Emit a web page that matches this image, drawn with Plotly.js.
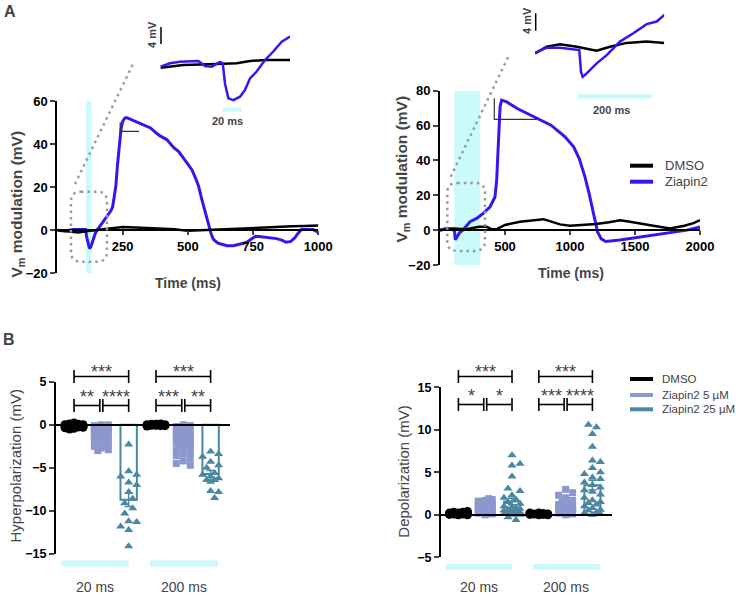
<!DOCTYPE html>
<html><head><meta charset="utf-8">
<script src="https://cdn.plot.ly/plotly-3.0.1.min.js"></script>
<style>html,body{margin:0;padding:0;background:#fff}#chart{width:736px;height:595px}</style>
</head><body><div id="chart"></div>
<script>
// ================= DATA =================
// Panel A, 20 ms light pulse (main trace)
const shortZiapinTime = [0,30,60,90,108,112,118,123,128,135,145,155,170,185,195,205,212,218,224,230,237,244,250,258,265,280,300,330,357,380,395,420,446,465,478,500,516,530,541,552,560,570,579,590,598,615,630,650,674,700,725,745,760,780,800,820,840,860,877,895,910,922,935,960,980,990,1000];
const shortZiapin = [0,-0.3,0.3,0.2,0.3,-3,-7,-8.4,-7.8,-4.8,-1.5,0.5,3,5.5,7,9,11,15,20.5,30,40.5,47,50.5,52,52.3,51.5,50.5,49,47.5,45,43.7,42,38.3,36.5,34.4,31,28,24,20.5,15,11.3,6,2,-2,-4.2,-6,-6.5,-7.2,-7.2,-6.5,-5.7,-4,-2.8,-3,-3.3,-3.5,-3.9,-4.6,-5.6,-5.2,-3.5,-1.5,0.3,0.3,0.3,-0.3,-1];
const shortDmsoTime = [0,40,80,110,150,200,250,300,350,400,450,500,550,600,650,700,750,800,850,900,950,1000];
const shortDmso = [0,-0.5,-1,-0.5,0,0.8,1.5,1.3,1,0.8,0.5,-0.3,0,0.2,0.5,0.8,1.2,1.3,1.5,1.8,2,2.2];
// Panel A, 200 ms light pulse (main trace)
const longZiapinTime = [0,56,102,112,118,130,150,175,231,282,333,385,423,436,449,462,474,513,594,724,854,962,1028,1071,1115,1147,1179,1212,1240,1275,1385,1500,1641,1800,1900,2000];
const longZiapin = [0,1,0.4,-1,-5.5,-4,-1.5,0,4.8,6.7,9.6,13.4,19,28.7,51.6,70.7,74.6,73.6,69.8,65,60.2,53.5,47.8,41.1,30.6,21,9.6,-1,-5,-6.5,-5.7,-4.5,-2.9,-1.2,0,1.9];
const longDmsoTime = [0,100,200,300,359,400,436,500,615,700,795,850,923,1000,1077,1200,1300,1385,1450,1550,1641,1769,1880,1950,2000];
const longDmso = [0,1,0.5,2,1.9,0.5,0.6,3,4.8,5.5,6.3,5,3.3,2.5,2.9,3.5,4.5,5.7,5,3.5,2.5,1,2.5,4,5.7];
// Insets (zoom on the light pulse)
const insetShortZiapinTime = [44.7,54.5,65.1,84.4,91.4,98.5,107.2,110.1,112.5,116,121.3,128.3,133.6,138.9,145.9,154.7,163.4,172.3,181];
const insetShortZiapin = [-0.16,0.64,1.0,1.2,0,-0.16,0.94,0.64,-4.1,-7.6,-8.0,-7.2,-5.6,-2.9,-1.3,1.4,3.4,5.7,6.9];
const insetShortDmsoTime = [44.7,68.6,103.8,124.8,138.9,156.5,181];
const insetShortDmso = [-0.4,0.24,0.47,0.64,1.2,1.4,1.4];
const insetLongZiapinTime = [-6,25.6,61.6,113.7,118.3,122.9,133.7,160.8,187.8,223.7,259.7,295.9,322.9,343.5];
const insetLongZiapin = [-0.16,1.0,1.0,0.46,-4.5,-5.7,-4.9,-2.6,-0.7,2.4,4.3,6.4,7.0,8.5];
const insetLongDmsoTime = [-6,25.6,61.6,106.7,160.8,196.7,241.8,295.9,343.5];
const insetLongDmso = [-0.3,1.2,1.8,1.2,0.3,1.2,2.1,2.4,2.1];
const lightShort = [110,130];   // ms
const lightLong = [110,310];    // ms
const scaleBarMv = 4;

// Panel B
const pulseLabels = ['20 ms','200 ms'];
const conditionNames = ['DMSO','Ziapin2 5 µM','Ziapin2 25 µM'];
const hyperDmso20 = [0.2,0.1,0.05,0,0,-0.05,-0.1,-0.1,-0.15,-0.2,-0.25,-0.3,-0.35,-0.4,-0.5,-0.2,0,-0.1];
const hyperZ5_20 = [0,0,-0.1,-0.2,-0.3,-0.4,-0.5,-0.5,-0.6,-0.7,-0.8,-0.8,-0.9,-1.0,-1.0,-1.1,-1.2,-1.3,-1.4,-1.5,-1.6,-1.7,-1.8,-1.9,-2.0,-2.1,-2.3,-2.5,-2.7,-2.9,-3.0];
const hyperZ25_20 = [-2.3,-5.4,-5.8,-6.0,-6.7,-7.0,-7.8,-8.6,-9.1,-9.7,-10.3,-11.2,-11.3,-11.8,-12.2,-14.1];
const hyperDmso200 = [0.1,0.05,0,0,0,-0.05,-0.05,-0.1,-0.1,-0.15,0,0.05];
const hyperZ5_200 = [0,-0.1,-0.2,-0.3,-0.4,-0.5,-0.6,-0.7,-0.8,-0.9,-1.0,-1.1,-1.2,-1.3,-1.4,-1.5,-1.6,-1.7,-1.8,-1.9,-2.0,-2.1,-2.2,-2.3,-2.4,-2.6,-2.8,-3.0,-3.2,-3.4,-3.6,-3.9,-4.2,-4.5,-4.7];
const hyperZ25_200 = [-3.1,-3.4,-3.7,-4.3,-4.7,-5.0,-5.6,-5.8,-6.0,-6.2,-6.4,-6.4,-6.6,-7.7,-7.8,-8.5];
const depolDmso20 = [0,0.1,0.2,0.3,0.4,0.1,0,0.2,0.3,0.1,0.05,0.15];
const depolZ5_20 = [0,0.1,0.2,0.3,0.4,0.5,0.5,0.6,0.7,0.8,0.9,1.0,1.1,1.2,1.3,1.4,1.5,1.6,1.7,1.8,1.9,0.2,0.4,0.6,0.8,1.0,1.2,0.3,0.7,1.5];
const depolZ25_20 = [7.0,6.0,5.8,4.5,3.1,2.8,2.3,2.0,1.5,1.3,1.0,0.8,0.6,0.5,0.3,0.2,0.1,0,-0.3,-0.6,1.8,0.9,0,0.1,0.2,0.4,0.5,0.7];
const depolDmso200 = [0,0.05,0.1,0.15,0.2,0.1,0,0.05,0.1,0.2];
const depolZ5_200 = [0,0.1,0.2,0.3,0.4,0.5,0.6,0.7,0.8,0.9,1.0,1.1,1.2,1.3,1.5,1.7,2.0,2.3,2.6,3.0,0.2,0.4,0.6,0.8,0.3,0.5,1.0];
const depolZ25_200 = [10.6,10.3,9.5,8.0,6.4,6.2,5.5,5.0,4.8,4.4,4.2,3.8,3.5,3.2,2.9,2.7,2.4,2.0,1.7,1.4,1.2,1.0,0.8,0.5,0.3,0.1,0,0.2,0.6,1.5];
// significance brackets: [label, from category, to category, level]
const hyperSig = [['***',0,2,'top'],['**',0,1,'low'],['****',1,2,'low'],['***',3,5,'top'],['***',3,4,'low'],['**',4,5,'low']];
const depolSig = [['***',0,2,'top'],['*',0,1,'low'],['*',1,2,'low'],['***',3,5,'top'],['***',3,4,'low'],['****',4,5,'low']];

// ================= LAYOUT GEOMETRY =================
const W = 736, H = 595;
const FONT = 'Liberation Sans, Arial, Helvetica, sans-serif';
const C_BLUE = '#3218f0', C_CYAN = '#cbfafa', C_Z5 = '#8c98cd', C_Z25 = '#4a87a3', C_GREY = '#9a9a9a';
const G = {
  AL: {x:[57.4,318.3], y:[101,273.3], xr:[0,1000], yr:[-20,60]},
  AR: {x:[440,700], y:[90.7,265], xr:[0,2000], yr:[-20,80]},
  IL: {x:[160,290], y:[20,115], xr:[44,181], yr:[-11.5,10.8]},
  IR: {x:[535,664.3], y:[8,100], xr:[-6,343.5], yr:[-11,10.1]},
  BL: {x:[56,230], y:[381.7,554], xr:[-0.66,5.71], yr:[-15,5]},
  BR: {x:[441,611.7], y:[387.3,557.3], xr:[-0.65,5.72], yr:[-5,15]}
};
const PX = p => p / W, PY = p => 1 - p / H;
function pxX(g, v){ return g.x[0] + (v - g.xr[0]) / (g.xr[1] - g.xr[0]) * (g.x[1] - g.x[0]); }
function pxY(g, v){ return g.y[1] - (v - g.yr[0]) / (g.yr[1] - g.yr[0]) * (g.y[1] - g.y[0]); }
const dX = (g, v) => PX(pxX(g, v)), dY = (g, v) => PY(pxY(g, v));
const xdom = g => [PX(g.x[0]), PX(g.x[1])], ydom = g => [PY(g.y[1]), PY(g.y[0])];

function mean(a){ return a.reduce((s,v)=>s+v,0)/a.length; }
function sem(a){ const m=mean(a); const sd=Math.sqrt(a.reduce((s,v)=>s+(v-m)*(v-m),0)/(a.length-1)); return sd/Math.sqrt(a.length); }

function swarm(vals, g, diam, maxPx){
  const sy = (g.y[1]-g.y[0])/(g.yr[1]-g.yr[0]);
  const sx = (g.x[1]-g.x[0])/(g.xr[1]-g.xr[0]);
  const idx = vals.map((v,i)=>i).sort((a,b)=>Math.abs(vals[a])-Math.abs(vals[b]));
  const placed = [], off = new Array(vals.length).fill(0);
  const step = diam*0.5;
  for (const i of idx){
    const yv = vals[i]*sy; let best=0, bestD=-1;
    for (let k=0;;k++){
      const m = Math.ceil(k/2), xo = (k%2 ? 1 : -1)*m*step;
      if (Math.abs(xo) > maxPx) break;
      let dmin = Infinity;
      for (const p of placed){ const d = Math.hypot(p[0]-xo, p[1]-yv); if (d<dmin) dmin=d; }
      if (dmin >= diam*0.9){ best=xo; bestD=dmin; break; }
      if (dmin > bestD + 0.01){ bestD=dmin; best=xo; }
    }
    placed.push([best,yv]); off[i]=best/sx;
  }
  return off;
}

const traces = [];
const shapes = [];
const annotations = [];
const ann = (o) => annotations.push(Object.assign({showarrow:false, xref:'paper', yref:'paper', xanchor:'center', yanchor:'middle', font:{family:FONT, size:13, color:'#000'}}, o));

// ---- Panel A traces ----
function line(x, y, xa, ya, color, width){ traces.push({type:'scatter', mode:'lines', x, y, xaxis:xa, yaxis:ya, line:{color, width, shape:'linear'}, showlegend:false, hoverinfo:'skip'}); }
line(shortZiapinTime, shortZiapin, 'x', 'y', C_BLUE, 3);
line(shortDmsoTime, shortDmso, 'x', 'y', '#000', 2.5);
line(longZiapinTime, longZiapin, 'x2', 'y2', C_BLUE, 3);
line(longDmsoTime, longDmso, 'x2', 'y2', '#000', 2.5);
line(insetShortDmsoTime, insetShortDmso, 'x3', 'y3', '#000', 2.5);
line(insetShortZiapinTime, insetShortZiapin, 'x3', 'y3', C_BLUE, 2.5);
line(insetLongDmsoTime, insetLongDmso, 'x4', 'y4', '#000', 2.5);
line(insetLongZiapinTime, insetLongZiapin, 'x4', 'y4', C_BLUE, 2.5);

// light windows
shapes.push({type:'rect', xref:'x', yref:'y', x0:lightShort[0], x1:lightShort[1], y0:-20, y1:60, fillcolor:C_CYAN, line:{width:0}, layer:'below'});
shapes.push({type:'rect', xref:'x2', yref:'y2', x0:lightLong[0], x1:lightLong[1], y0:-20, y1:80, fillcolor:C_CYAN, line:{width:0}, layer:'below'});
// inset light bars
shapes.push({type:'rect', xref:'paper', yref:'paper', x0:dX(G.IL,lightShort[0]), x1:dX(G.IL,lightShort[1]), y0:PY(112), y1:PY(107.5), fillcolor:C_CYAN, line:{width:0}});
shapes.push({type:'rect', xref:'paper', yref:'paper', x0:dX(G.IR,lightLong[0]), x1:dX(G.IR,lightLong[1]), y0:PY(98.5), y1:PY(94), fillcolor:C_CYAN, line:{width:0}});
// inset scale bars (4 mV)
shapes.push({type:'line', xref:'paper', yref:'paper', x0:PX(161), x1:PX(161), y0:PY(44), y1:PY(44 - scaleBarMv*(G.IL.y[1]-G.IL.y[0])/(G.IL.yr[1]-G.IL.yr[0])), line:{color:'#000', width:1.5}});
shapes.push({type:'line', xref:'paper', yref:'paper', x0:PX(535.7), x1:PX(535.7), y0:PY(30.7), y1:PY(30.7 - scaleBarMv*(G.IR.y[1]-G.IR.y[0])/(G.IR.yr[1]-G.IR.yr[0])), line:{color:'#000', width:1.5}});
ann({x:PX(152), y:PY(35), text:'4 mV', textangle:-90, font:{family:FONT, size:11, weight:'bold'}});
ann({x:PX(527), y:PY(21), text:'4 mV', textangle:-90, font:{family:FONT, size:11, weight:'bold'}});
ann({x:PX(227), y:PY(121), text:'20 ms', font:{family:FONT, size:11, weight:'bold'}});
ann({x:PX(611), y:PY(109.5), text:'200 ms', font:{family:FONT, size:11, weight:'bold'}});

// dotted zoom boxes and connectors
function roundRect(x0,y0,x1,y1,r){
  const f=(x,y)=>PX(x).toFixed(5)+','+PY(y).toFixed(5);
  return 'M'+f(x0+r,y0)+' L'+f(x1-r,y0)+' Q'+f(x1,y0)+' '+f(x1,y0+r)+' L'+f(x1,y1-r)+' Q'+f(x1,y1)+' '+f(x1-r,y1)+
         ' L'+f(x0+r,y1)+' Q'+f(x0,y1)+' '+f(x0,y1-r)+' L'+f(x0,y0+r)+' Q'+f(x0,y0)+' '+f(x0+r,y0)+' Z';
}
const dotLine = {color:C_GREY, width:2.5, dash:'2.5px,4px'};
shapes.push({type:'path', xref:'paper', yref:'paper', path:roundRect(pxX(G.AL,52), pxY(G.AL,17.9), pxX(G.AL,190), pxY(G.AL,-14.6), 10), line:dotLine});
shapes.push({type:'path', xref:'paper', yref:'paper', path:roundRect(pxX(G.AR,56), pxY(G.AR,27.1), pxX(G.AR,346), pxY(G.AR,-11.9), 10), line:dotLine});
shapes.push({type:'line', xref:'paper', yref:'paper', x0:PX(75), y0:PY(184), x1:PX(133), y1:PY(64), line:dotLine});
shapes.push({type:'line', xref:'paper', yref:'paper', x0:PX(450.7), y0:PY(176.7), x1:PX(508.3), y1:PY(56.7), line:dotLine});
// peak markers
shapes.push({type:'path', xref:'x', yref:'y', path:'M240.7,50.1 L240.7,45.9 L313,45.9', line:{color:'#333', width:1.2}});
shapes.push({type:'path', xref:'x2', yref:'y2', path:'M417.7,75.6 L417.7,63.5 L744,63.5', line:{color:'#333', width:1.2}});

// legend A
shapes.push({type:'line', xref:'paper', yref:'paper', x0:PX(630), x1:PX(653), y0:PY(165.7), y1:PY(165.7), line:{color:'#000', width:4}});
shapes.push({type:'line', xref:'paper', yref:'paper', x0:PX(630), x1:PX(653), y0:PY(181.7), y1:PY(181.7), line:{color:C_BLUE, width:4}});
ann({x:PX(663), y:PY(165.7), xanchor:'left', text:'DMSO', font:{family:FONT, size:13}});
ann({x:PX(663), y:PY(181.7), xanchor:'left', text:'Ziapin2', font:{family:FONT, size:13}});

// ---- Panel B ----
const condColors = ['#000', C_Z5, C_Z25];
const condSymbols = ['circle','square','triangle-up'];
const condSizes = [9, 7, 8];
function panelB(g, xa, ya, groups, sig, brY){
  for (let c=0;c<3;c++){
    const xs=[c, c+3], vals=[groups[c][0], groups[c][1]];
    traces.push({type:'bar', x:xs, y:vals.map(mean), width:0.6, xaxis:xa, yaxis:ya, showlegend:false, hoverinfo:'skip',
      marker:{color:'rgba(0,0,0,0)', line:{color:condColors[c], width:2}},
      error_y:{type:'data', array:vals.map(sem), visible:true, color:condColors[c], thickness:1.5, width:4}});
  }
  for (let c=0;c<3;c++){
    const px=[], py=[];
    for (let p=0;p<2;p++){
      const v = groups[c][p], off = swarm(v, g, condSizes[c], 9);
      v.forEach((val,i)=>{ px.push(c+3*p+off[i]); py.push(val); });
    }
    traces.push({type:'scatter', mode:'markers', x:px, y:py, xaxis:xa, yaxis:ya, showlegend:false, hoverinfo:'skip', cliponaxis:false,
      marker:{symbol:condSymbols[c], size:condSizes[c], color:condColors[c], line:{width:0}}});
  }
  sig.forEach(([lab, a, b, lvl])=>{
    const yPx = lvl==='top' ? brY[0] : brY[1];
    const gap = lvl==='low' ? 0.055 : 0;
    const xa0 = a + (a%3!==0 ? gap : 0), xb0 = b - (b%3!==2 ? gap : 0);
    const x0 = dX(g, xa0), x1 = dX(g, xb0);
    shapes.push({type:'line', xref:'paper', yref:'paper', x0, x1, y0:PY(yPx), y1:PY(yPx), line:{color:'#000', width:1.6}});
    shapes.push({type:'line', xref:'paper', yref:'paper', x0, x1:x0, y0:PY(yPx-6.5), y1:PY(yPx+6.5), line:{color:'#000', width:1.6}});
    shapes.push({type:'line', xref:'paper', yref:'paper', x0:x1, x1, y0:PY(yPx-6.5), y1:PY(yPx+6.5), line:{color:'#000', width:1.6}});
    ann({x:(x0+x1)/2, y:PY(yPx - (lvl==='top' ? 5 : 9)), text:lab, font:{family:FONT, size:18}});
  });
  const barPx = g === G.BL ? 563.5 : 567;
  [[-0.48,2.01],[2.78,5.27]].forEach((r,i)=>{
    shapes.push({type:'rect', xref:'paper', yref:'paper', x0:dX(g,r[0]), x1:dX(g,r[1]), y0:PY(barPx+3), y1:PY(barPx-3), fillcolor:C_CYAN, line:{width:0}});
    ann({x:dX(g,(r[0]+r[1])/2), y:PY(587), text:pulseLabels[i], font:{family:FONT, size:14}});
  });
}
panelB(G.BL, 'x5', 'y5', [[hyperDmso20,hyperDmso200],[hyperZ5_20,hyperZ5_200],[hyperZ25_20,hyperZ25_200]], hyperSig, [376.5, 405.5]);
panelB(G.BR, 'x6', 'y6', [[depolDmso20,depolDmso200],[depolZ5_20,depolZ5_200],[depolZ25_20,depolZ25_200]], depolSig, [376.5, 404.5]);

// legend B
[379, 395, 409.3].forEach((y,i)=>{
  shapes.push({type:'line', xref:'paper', yref:'paper', x0:PX(630), x1:PX(653), y0:PY(y), y1:PY(y), line:{color:condColors[i], width:4}});
  ann({x:PX(660), y:PY(y), xanchor:'left', text:conditionNames[i], font:{family:FONT, size:11.5}});
});

// titles & panel letters
ann({x:PX(2), y:PY(11), xanchor:'left', text:'A', font:{family:FONT, size:16, weight:'bold'}});
ann({x:PX(1), y:PY(339), xanchor:'left', text:'B', font:{family:FONT, size:16, weight:'bold'}});
ann({x:PX(16.5), y:PY(204), text:'V<sub>m</sub> modulation (mV)', textangle:-90, font:{family:FONT, size:15.5, weight:'bold'}});
ann({x:PX(401.5), y:PY(169), text:'V<sub>m</sub> modulation (mV)', textangle:-90, font:{family:FONT, size:15.5, weight:'bold'}});
ann({x:PX(188.3), y:PY(282.5), text:'Time (ms)', font:{family:FONT, size:14, weight:'bold'}});
ann({x:PX(571), y:PY(273.5), text:'Time (ms)', font:{family:FONT, size:14, weight:'bold'}});
ann({x:PX(15), y:PY(466.5), text:'Hyperpolarization (mV)', textangle:-90, font:{family:FONT, size:15}});
ann({x:PX(404), y:PY(471.7), text:'Depolarization (mV)', textangle:-90, font:{family:FONT, size:15}});

// ================= AXES =================
const tickBold = (s)=>({family:FONT, size:s, color:'#000', weight:'bold'});
function mainY(g, tv){ return {domain:ydom(g), range:g.yr, tickvals:tv, ticks:'outside', ticklen:5, tickwidth:2, showline:true, linewidth:2, linecolor:'#000', showgrid:false, zeroline:false, tickfont:tickBold(13), fixedrange:true}; }
function mainX(g, tv){ return {domain:xdom(g), range:g.xr, anchor:'free', position:dY(g,0), tickvals:tv, ticks:'outside', ticklen:4, tickwidth:2, showline:true, linewidth:2, linecolor:'#000', showgrid:false, zeroline:false, tickfont:tickBold(13), fixedrange:true}; }
const layout = {
  width:W, height:H, margin:{l:0,r:0,t:0,b:0}, paper_bgcolor:'#fff', plot_bgcolor:'rgba(0,0,0,0)',
  showlegend:false, barmode:'overlay', hovermode:false,
  xaxis: mainX(G.AL,[250,500,750,1000]), yaxis: Object.assign(mainY(G.AL,[-20,0,20,40,60]), {anchor:'x'}),
  xaxis2: mainX(G.AR,[500,1000,1500,2000]), yaxis2: Object.assign(mainY(G.AR,[-20,0,20,40,60,80]), {anchor:'x2'}),
  xaxis3: {domain:xdom(G.IL), range:G.IL.xr, visible:false, anchor:'y3'}, yaxis3: {domain:ydom(G.IL), range:G.IL.yr, visible:false, anchor:'x3'},
  xaxis4: {domain:xdom(G.IR), range:G.IR.xr, visible:false, anchor:'y4'}, yaxis4: {domain:ydom(G.IR), range:G.IR.yr, visible:false, anchor:'x4'},
  xaxis5: {domain:xdom(G.BL), range:G.BL.xr, anchor:'free', position:dY(G.BL,0), showline:true, linewidth:2, linecolor:'#000', showticklabels:false, ticks:'', showgrid:false, zeroline:false},
  yaxis5: Object.assign(mainY(G.BL,[-15,-10,-5,0,5]), {anchor:'x5', tickfont:tickBold(12.5)}),
  xaxis6: {domain:xdom(G.BR), range:G.BR.xr, anchor:'free', position:dY(G.BR,0), showline:true, linewidth:2, linecolor:'#000', showticklabels:false, ticks:'', showgrid:false, zeroline:false},
  yaxis6: Object.assign(mainY(G.BR,[-5,0,5,10,15]), {anchor:'x6', tickfont:tickBold(12.5)}),
  shapes, annotations
};
Plotly.newPlot('chart', traces, layout, {staticPlot:true, displayModeBar:false});
</script></body></html>
